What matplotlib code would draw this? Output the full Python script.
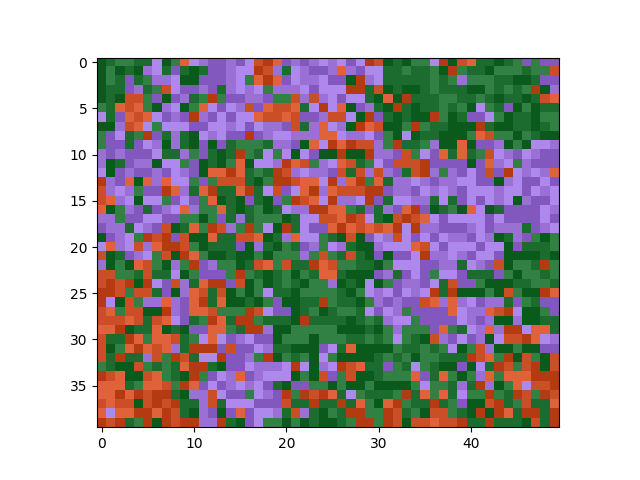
import numpy as np
import matplotlib
matplotlib.use("Agg")
import matplotlib.pyplot as plt
from matplotlib.colors import ListedColormap

# couleurs : 3 verts, 3 violets, 3 oranges
level_colors = ['#0a5a1c', '#1c6c30', '#328044',
                '#8258be', '#9a70d4', '#ae88ec',
                '#b43a12', '#ca4e26', '#e0623a']

# niveau de chaque case, une ligne par rangee
rows = [
    "0 1 2 2 1 1 5 0 2 8 5 4 3 3 4 3 5 7 6 8 3 4 3 4 5 4 5 3 5 6 7 0 1 0 2 2 5 6 0 7 8 1 1 0 1 2 3 2 3 3",
    "0 2 0 1 0 4 5 1 3 1 0 1 3 3 4 5 5 6 7 4 1 5 4 3 3 4 8 4 3 5 5 1 1 2 1 1 2 0 6 2 1 1 0 2 2 2 1 2 2 7",
    "0 2 1 3 1 2 4 4 5 0 0 3 3 3 4 5 2 8 6 8 3 5 4 4 5 3 3 0 6 4 5 1 1 1 1 1 2 1 2 4 2 2 2 1 1 0 0 1 3 3",
    "0 1 1 3 4 1 2 7 5 3 3 4 3 1 4 5 4 5 2 4 4 4 5 3 5 5 5 6 6 1 7 0 1 0 0 1 2 1 1 1 0 0 2 1 2 1 2 6 0 4",
    "0 1 0 7 7 2 3 0 3 4 1 2 6 2 3 3 4 4 3 2 2 7 4 7 4 5 3 5 5 1 0 8 0 6 1 1 1 2 2 1 1 2 1 0 1 1 0 1 7 8",
    "2 1 8 7 8 2 0 4 5 0 2 8 5 3 5 4 7 3 8 7 7 8 1 5 6 5 8 0 3 4 1 0 6 1 0 1 1 2 1 2 0 5 2 1 3 0 2 0 1 1",
    "5 1 3 8 7 8 5 3 4 3 6 4 3 5 3 5 5 8 7 7 8 7 3 3 4 7 7 5 0 6 3 1 0 1 0 0 6 2 0 1 3 3 5 2 0 1 1 0 2 2",
    "0 0 4 7 8 5 2 5 5 5 3 3 5 5 4 5 3 5 4 4 3 7 1 4 8 5 4 0 6 8 7 0 0 2 6 2 1 1 0 0 0 6 1 0 0 1 1 0 1 2",
    "2 3 5 1 2 6 3 1 4 1 0 5 4 5 3 3 6 3 4 5 5 4 4 4 8 8 5 4 4 5 3 2 0 5 0 1 1 0 0 0 2 8 7 2 2 0 2 1 0 0",
    "2 3 3 1 3 5 4 0 4 1 0 3 0 3 1 2 2 2 1 4 4 3 0 8 5 6 8 6 7 7 4 2 6 1 1 2 4 0 0 8 0 3 3 4 0 2 0 5 5 4",
    "4 3 4 3 3 3 5 1 1 4 2 3 1 0 1 6 2 1 5 2 5 0 5 3 0 0 6 0 0 6 4 4 3 7 2 5 3 8 1 8 1 2 7 5 4 3 5 4 3 3",
    "4 0 1 3 4 4 0 5 5 2 3 0 1 0 2 8 0 5 5 4 6 8 7 2 4 5 8 7 1 2 5 3 7 7 7 6 3 3 3 3 0 3 8 4 5 2 4 3 3 3",
    "5 0 3 4 3 3 4 3 5 4 3 0 8 8 6 8 1 2 1 6 7 4 5 4 4 3 7 1 7 4 7 4 3 1 7 6 4 2 4 3 5 3 7 3 6 5 4 5 4 8",
    "6 4 3 8 0 8 4 8 5 5 2 3 2 7 7 7 1 0 2 6 6 7 8 8 5 6 4 8 6 2 8 1 4 4 5 4 3 4 4 5 5 3 3 0 4 5 3 3 5 3",
    "7 4 5 4 2 3 3 6 8 4 1 8 6 1 1 8 6 1 5 7 3 5 8 6 4 8 7 7 7 6 6 3 4 4 3 5 4 5 4 3 5 5 5 4 5 5 3 5 4 5",
    "7 8 4 5 0 5 5 2 3 5 3 2 8 0 1 0 3 1 0 3 2 6 7 8 5 6 4 4 5 6 3 1 5 5 4 4 1 5 1 3 5 3 5 4 5 0 4 3 3 5",
    "8 0 2 4 3 1 3 4 5 8 4 2 2 8 1 0 1 2 0 1 5 4 4 6 6 8 8 2 1 3 1 4 3 8 6 3 0 1 2 0 8 5 0 1 3 3 3 3 5 4",
    "4 4 2 3 3 5 5 3 3 2 2 0 2 3 1 4 1 2 2 2 0 1 5 5 7 7 8 6 7 5 1 0 7 6 7 8 5 3 5 5 5 5 3 5 3 3 3 3 5 3",
    "3 4 4 1 5 4 3 7 0 1 8 2 6 7 4 2 6 2 5 0 6 1 5 3 3 8 6 8 7 8 7 8 6 5 6 4 4 3 3 3 4 5 3 4 4 4 1 3 4 5",
    "0 3 4 5 2 6 7 6 3 7 0 0 8 1 1 7 7 8 0 1 4 8 5 5 2 1 0 7 0 3 5 4 7 5 3 5 3 5 4 4 3 5 4 0 1 4 3 2 0 2",
    "5 8 4 5 7 4 8 6 6 7 2 0 1 1 1 3 0 4 1 0 2 1 3 4 2 5 4 1 0 0 4 5 5 5 8 7 5 3 5 5 5 3 5 5 0 3 1 1 1 2",
    "7 0 1 3 4 5 2 7 0 6 8 2 0 0 1 0 0 2 0 2 2 2 4 2 7 2 1 7 1 0 3 0 3 3 5 6 4 4 5 4 3 5 5 3 0 0 0 0 1 0",
    "4 0 2 0 8 7 2 0 4 2 6 3 4 2 2 0 1 7 8 2 7 1 1 6 8 7 2 2 1 1 0 2 5 5 5 3 3 4 4 1 5 4 3 7 0 2 2 1 6 2",
    "7 7 2 2 1 7 1 1 5 0 2 3 3 3 2 6 2 1 0 1 2 0 2 1 8 8 1 0 0 0 3 4 1 3 5 3 2 5 5 3 1 1 1 3 2 0 2 2 1 2",
    "7 6 7 6 0 6 5 3 7 4 1 8 6 6 3 7 0 2 0 1 2 1 0 2 2 4 0 1 0 5 0 2 3 4 4 3 5 1 7 3 3 2 0 0 0 1 1 2 2 1",
    "6 6 7 2 7 7 1 3 0 4 8 7 1 7 0 2 0 2 5 1 1 0 2 2 2 2 1 0 2 5 4 5 3 5 4 5 6 1 6 0 0 0 2 0 7 2 0 0 6 8",
    "6 5 0 7 2 4 4 8 4 3 8 6 1 8 0 0 1 0 2 3 0 0 1 1 6 2 1 1 0 2 4 3 4 3 3 7 8 4 8 4 5 3 4 4 1 3 2 1 3 3",
    "7 8 2 7 7 0 0 6 4 3 8 8 7 2 2 2 6 7 5 3 3 0 1 2 0 1 2 2 1 5 3 5 4 2 3 3 3 3 8 5 4 4 8 7 6 5 0 0 2 3",
    "7 7 7 8 7 1 7 8 5 3 1 2 6 8 1 6 6 2 1 1 1 0 6 1 1 1 1 0 1 2 1 4 5 5 2 3 3 3 3 5 4 3 4 0 0 4 0 0 1 1",
    "8 8 6 0 1 1 8 0 1 0 3 3 8 8 2 1 6 6 4 0 0 2 2 2 2 2 0 0 0 1 0 2 4 2 2 2 3 8 2 1 5 4 8 4 6 6 5 8 8 1",
    "7 1 1 6 8 2 8 8 7 1 2 5 8 5 3 4 5 3 3 0 2 2 2 0 2 2 2 1 1 2 1 2 5 2 1 0 7 4 3 5 3 4 0 5 7 7 6 8 5 4",
    "7 0 2 8 6 8 7 8 4 1 6 6 6 3 7 3 3 5 4 1 1 0 0 0 3 5 1 8 0 0 0 0 2 1 1 2 1 2 5 0 2 7 4 0 0 2 0 0 3 3",
    "7 1 6 1 1 4 7 2 6 7 1 5 5 6 3 3 4 2 6 0 2 1 2 0 5 2 0 0 0 0 1 2 1 2 0 2 2 1 1 1 6 7 8 2 6 0 7 2 0 7",
    "2 1 0 0 7 2 1 2 1 8 6 6 1 0 3 3 5 4 4 4 5 6 5 0 4 5 6 7 8 1 1 3 2 1 5 2 1 0 0 3 0 5 1 6 7 2 7 6 0 7",
    "6 7 8 0 0 7 8 2 1 0 6 2 3 5 4 8 3 4 5 5 5 0 2 0 7 3 2 7 0 0 1 2 2 2 8 3 1 8 2 0 2 4 8 2 8 8 8 6 6 6",
    "8 8 8 1 2 8 8 7 2 6 8 3 5 3 4 5 4 5 3 1 0 3 3 2 2 0 2 0 0 2 0 0 0 0 2 5 2 2 1 4 1 6 4 0 2 8 5 7 7 6",
    "8 8 6 8 6 7 6 6 1 0 4 4 7 5 3 3 2 5 4 3 6 2 6 7 6 8 1 5 2 1 1 1 2 6 1 8 2 8 1 5 2 2 6 2 1 6 7 2 6 7",
    "7 8 7 7 0 7 6 7 6 1 1 4 7 1 5 5 5 3 3 3 7 1 1 6 1 1 6 1 8 2 0 8 6 2 1 1 6 1 2 3 0 0 7 6 1 2 7 1 1 8",
    "8 5 8 8 6 6 8 6 7 1 0 4 3 0 3 8 3 5 5 4 1 7 4 1 0 2 1 6 6 2 2 6 7 1 2 0 7 7 2 1 0 6 0 6 8 1 6 6 1 6",
    "6 7 6 1 2 6 0 6 7 6 6 4 4 6 1 0 3 5 2 2 0 2 0 1 0 0 1 2 6 6 2 6 7 0 7 7 8 7 7 6 1 1 6 1 1 1 0 7 1 6",
]

values = np.array([r.split() for r in rows], dtype=int)

fig, ax = plt.subplots(figsize=(6.4, 4.8), dpi=100)
cmap = ListedColormap(level_colors)
ax.imshow(values, cmap=cmap, vmin=-0.5, vmax=8.5, interpolation='nearest')
ax.set_xticks(np.arange(0, 50, 10))
ax.set_yticks(np.arange(0, 40, 5))
fig.savefig('out.png', dpi=100)
